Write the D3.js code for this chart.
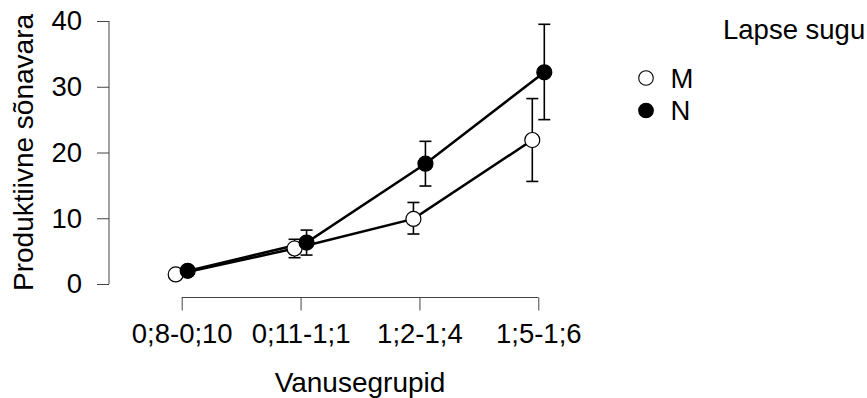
<!DOCTYPE html>
<html>
<head>
<meta charset="utf-8">
<script src="https://cdn.jsdelivr.net/npm/d3@7"></script>
<style>
  html, body { margin: 0; padding: 0; background: #fff; }
  svg { display: block; font-family: "Liberation Sans", Arial, sans-serif; }
</style>
</head>
<body>
<svg id="chart" width="867" height="398"></svg>
<script>
// ---- data ----
const categories = ["0;8-0;10", "0;11-1;1", "1;2-1;4", "1;5-1;6"];
const yTicks = [0, 10, 20, 30, 40];
const seriesNames = ["M", "N"];
const mMean  = [1.45, 5.4, 9.9, 21.9];
const mLower = [1.0, 4.0, 7.6, 15.6];
const mUpper = [1.9, 6.8, 12.4, 28.2];
const nMean  = [2.0, 6.3, 18.3, 32.2];
const nLower = [1.5, 4.4, 14.9, 25.0];
const nUpper = [2.5, 8.2, 21.7, 39.5];
const xTitle = "Vanusegrupid";
const yTitle = "Produktiivne sõnavara";
const legendTitle = "Lapse sugu";

// ---- layout ----
const svg = d3.select("#chart");
const x = d3.scalePoint().domain(categories).range([181.7, 538.3]);
const y = d3.scaleLinear().domain([0, 40]).range([284, 21]);
const dodge = { M: -6, N: 6 };
const fills = { M: "#ffffff", N: "#000000" };
const FS = 27.5;

const series = [
  { name: "M", mean: mMean, lo: mLower, hi: mUpper },
  { name: "N", mean: nMean, lo: nLower, hi: nUpper }
];

// ---- axes ----
const yAxis = d3.axisLeft(y).tickValues(yTicks).tickSize(12).tickPadding(15);
const gy = svg.append("g").attr("transform", "translate(109,0)").call(yAxis);
gy.select(".domain").attr("d", `M0,${y(0)}V${y(40)}`);
const xAxis = d3.axisBottom(x).tickSize(13).tickPadding(13);
const gx = svg.append("g").attr("transform", "translate(0,297.5)").call(xAxis);
gx.select(".domain").attr("d", `M${x(categories[0])},0H${x(categories[3])}`);
[gx, gy].forEach(g => {
  g.selectAll(".domain").attr("stroke", "#444").attr("stroke-width", 1).attr("fill", "none");
  g.selectAll(".tick line").attr("stroke", "#444").attr("stroke-width", 1);
  g.selectAll(".tick text").attr("fill", "#000").attr("font-size", FS)
    .attr("font-family", '"Liberation Sans", Arial, sans-serif');
});

// titles
svg.append("text").attr("x", (x(categories[0]) + x(categories[3])) / 2).attr("y", 392)
  .attr("text-anchor", "middle").attr("font-size", 28).text(xTitle);
svg.append("text").attr("transform", `translate(33,${(y(0) + y(40)) / 2}) rotate(-90)`)
  .attr("text-anchor", "middle").attr("font-size", 28).text(yTitle);

// ---- lines ----
const line = d3.line().x(d => d.x).y(d => d.y);
series.forEach(s => {
  const pts = categories.map((c, i) => ({ x: x(c) + dodge[s.name], y: y(s.mean[i]) }));
  svg.append("path").attr("d", line(pts)).attr("fill", "none")
    .attr("stroke", "#000").attr("stroke-width", 2.5);
});

// ---- error bars + points ----
series.forEach(s => {
  const g = svg.append("g");
  categories.forEach((c, i) => {
    const cx = x(c) + dodge[s.name];
    g.append("line").attr("x1", cx).attr("x2", cx)
      .attr("y1", y(s.lo[i])).attr("y2", y(s.hi[i]))
      .attr("stroke", "#000").attr("stroke-width", 1.6);
    [s.lo[i], s.hi[i]].forEach(v => {
      g.append("line").attr("x1", cx - 6).attr("x2", cx + 6)
        .attr("y1", y(v)).attr("y2", y(v))
        .attr("stroke", "#000").attr("stroke-width", 1.6);
    });
  });
  categories.forEach((c, i) => {
    g.append("circle").attr("cx", x(c) + dodge[s.name]).attr("cy", y(s.mean[i]))
      .attr("r", 7.5).attr("fill", fills[s.name]).attr("stroke", "#000").attr("stroke-width", 1.2);
  });
});

// ---- legend ----
svg.append("text").attr("x", 723).attr("y", 39).attr("font-size", FS).text(legendTitle);
seriesNames.forEach((n, i) => {
  const cy = 78 + i * 32.5;
  svg.append("circle").attr("cx", 646).attr("cy", cy).attr("r", 7.3)
    .attr("fill", fills[n]).attr("stroke", "#000").attr("stroke-width", 1.1);
  svg.append("text").attr("x", 670.5).attr("y", cy + 9.5).attr("font-size", FS).text(n);
});
</script>
</body>
</html>
